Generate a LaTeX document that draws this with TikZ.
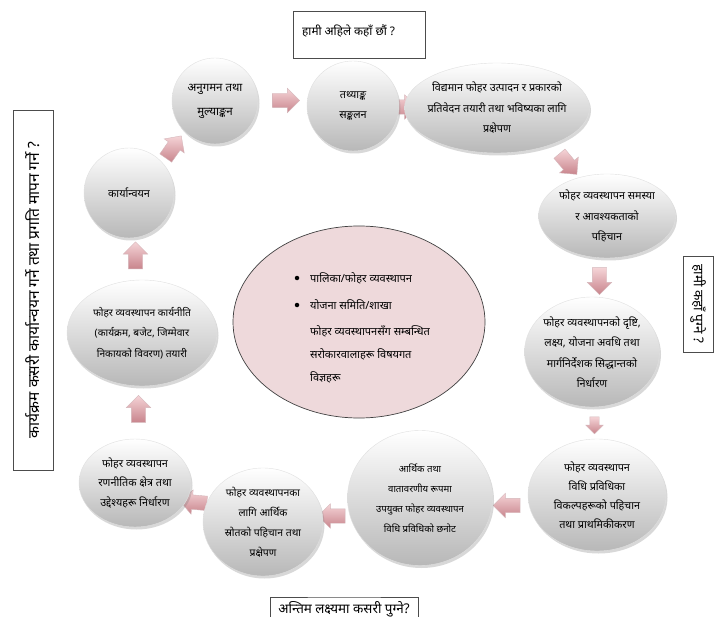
\documentclass[tikz,border=0pt]{standalone}
\usepackage{fontspec}
\setmainfont[Script=Devanagari]{Noto Sans}
\usetikzlibrary{shapes.geometric,shapes.arrows,shadows,calc}
\pgfdeclarelayer{bg}
\pgfsetlayers{bg,main}
\definecolor{arrL}{RGB}{245,212,215}
\definecolor{arrD}{RGB}{200,132,140}
\definecolor{arrE}{RGB}{170,110,118}
\definecolor{cpink}{RGB}{238,217,219}
\tikzset{
  bubble/.style={ellipse, inner sep=0pt, top color=white, middle color=black!3, bottom color=black!28,
    draw=black!12, drop shadow={shadow xshift=1.5pt, shadow yshift=-2.5pt, opacity=.3}},
  btext/.style={align=center, inner sep=0pt, font=\fontsize{10.8}{20.5}\selectfont},
  blockarrow/.style={single arrow, single arrow head extend=5pt, inner sep=0pt,
    text height=7pt, text depth=7pt, minimum height=27pt,
    top color=arrL, bottom color=arrD, draw=arrE!50},
  smallarrow/.style={blockarrow, text height=4.5pt, text depth=4.5pt, minimum height=17pt, single arrow head extend=4pt},
  qbox/.style={draw=black!70, line width=0.8pt},
  qtext/.style={inner sep=0pt, font=\fontsize{11.8}{14}\selectfont},
  ctext/.style={anchor=west, inner sep=0pt, font=\fontsize{11}{13}\selectfont},
  bullet/.style={circle, fill=black, inner sep=0pt, minimum size=4.5pt}
}
\begin{document}
\begin{tikzpicture}[x=1pt,y=-1pt]
\useasboundingbox (0,0) rectangle (719,617);
\begin{pgfonlayer}{bg}
\fill[white] (0,0) rectangle (719,617);
\end{pgfonlayer}

% question boxes
\node[qbox, minimum width=132pt, minimum height=47pt] (tb) at (359,35) {};
\node[qtext, anchor=west] (tbt) at (302,31) {हामी अहिले कहाँ छौं ?};
\node[qbox, minimum width=30pt, minimum height=96pt] (rb) at (698,304) {};
\node[qtext, rotate=-90, font=\fontsize{13.5}{16}\selectfont] (rbt) at (rb) {हामी कहाँ पुग्ने ?};
\node[qbox, minimum width=40pt, minimum height=360pt] (lb) at (33,290) {};
\node[qtext, rotate=90, font=\fontsize{15.5}{18}\selectfont] (lbt) at (lb) {कार्यक्रम कसरी कार्यान्वयन गर्ने तथा प्रगति मापन गर्ने ?};
\coordinate (bbl) at (270,620);
\coordinate (bbr) at (418,620);
\draw[qbox] (bbl) |- (344,597) -| (bbr);
\node[qtext, font=\fontsize{13.4}{15}\selectfont] (bbt) at (344,609) {अन्तिम लक्ष्यमा कसरी पुग्ने?};

% central ellipse
\node[ellipse, draw=black!75, fill=cpink, minimum width=252pt, minimum height=192pt, line width=0.7pt] (ce) at (359,322) {};
\node[bullet] (b1) at (297,278) {};
\node[ctext] (t1) at (310,278) {पालिका/फोहर व्यवस्थापन};
\node[bullet] (b2) at (297,305) {};
\node[ctext] (t2) at (310,305) {योजना समिति/शाखा};
\node[ctext] (t3) at (310,331) {फोहर व्यवस्थापनसँग सम्बन्धित};
\node[ctext] (t4) at (310,354) {सरोकारवालाहरू विषयगत};
\node[ctext] (t5) at (310,377) {विज्ञहरू};

% bubbles
\node[bubble, minimum width=86pt, minimum height=86pt] (c1) at (215,101) {};
\node[btext, font=\fontsize{11.5}{24}\selectfont] (c1t) at (c1) {अनुगमन तथा\\मुल्याङ्कन};
\node[bubble, minimum width=92pt, minimum height=90pt] (c2) at (353,106) {};
\node[btext] (c2t) at (c2) {तथ्याङ्क\\सङ्कलन};
\node[bubble, minimum width=185pt, minimum height=90pt] (e3) at (497,108) {};
\node[btext] (e3t) at (e3) {विद्यमान फोहर उत्पादन र प्रकारको\\प्रतिवेदन तयारी तथा भविष्यका लागि\\प्रक्षेपण};
\node[bubble, minimum width=137pt, minimum height=84pt] (e4) at (607,216) {};
\node[btext] (e4t) at (e4) {फोहर व्यवस्थापन समस्या\\र आवश्यकताको\\पहिचान};
\node[bubble, minimum width=135pt, minimum height=110pt] (e5) at (592,352) {};
\node[btext] (e5t) at (e5) {फोहर व्यवस्थापनको दृष्टि,\\लक्ष्य, योजना अवधि तथा\\मार्गनिर्देशक सिद्धान्तको\\निर्धारण};
\node[bubble, minimum width=138pt, minimum height=112pt] (c6) at (597,495) {};
\node[btext, font=\fontsize{10.8}{19}\selectfont] (c6t) at (c6) {फोहर व्यवस्थापन\\विधि प्रविधिका\\विकल्पहरूको पहिचान\\तथा प्राथमिकीकरण};
\node[bubble, minimum width=145pt, minimum height=135pt] (c7) at (420,498) {};
\node[btext, font=\fontsize{9.6}{20}\selectfont] (c7t) at (c7) {आर्थिक तथा\\वातावरणीय रूपमा\\उपयुक्त फोहर व्यवस्थापन\\विधि प्रविधिको छनोट};
\node[bubble, minimum width=120pt, minimum height=108pt] (c8) at (263,522) {};
\node[btext, font=\fontsize{10.4}{20}\selectfont] (c8t) at (c8) {फोहर व्यवस्थापनका\\लागि आर्थिक\\स्रोतको पहिचान तथा\\प्रक्षेपण};
\node[bubble, minimum width=112pt, minimum height=88pt] (e9) at (135,483) {};
\node[btext, font=\fontsize{10.8}{19.5}\selectfont] (e9t) at (e9) {फोहर व्यवस्थापन\\रणनीतिक क्षेत्र तथा\\उद्देश्यहरू निर्धारण};
\node[bubble, minimum width=150pt, minimum height=106pt] (e10) at (142,333) {};
\node[btext, font=\fontsize{10.2}{20.5}\selectfont] (e10t) at (e10) {फोहर व्यवस्थापन  कार्यनीति\\(कार्यक्रम, बजेट, जिम्मेवार\\निकायको विवरण) तयारी};
\node[bubble, minimum width=90pt, minimum height=90pt] (c11) at (129,193) {};
\node[btext] (c11t) at (c11) {कार्यान्वयन};

% block arrows between the bubbles
\begin{pgfonlayer}{bg}
\node[blockarrow] (a1) at ($(c1.east)!0.5!(c2.west)+(0,-3)$) {};
\node[blockarrow] (a2) at ($(c2.east)!0.5!(e3.west)+(-2,0)$) {};
\node[blockarrow, rotate=-50] (a3) at ($(e3.-40)!0.5!(e4.115)$) {};
\node[blockarrow, rotate=-90] (a4) at ($(e4.south)!0.5!(e5.north)$) {};
\node[smallarrow, rotate=-90] (a5) at ($(e5.south)!0.5!(c6.north)$) {};
\node[blockarrow, rotate=180] (a6) at ($(c6.west)!0.5!(c7.east)+(0,9)$) {};
\node[blockarrow, rotate=180] (a7) at ($(c7.west)!0.5!(c8.east)+(0,6)$) {};
\node[blockarrow, rotate=175] (a8) at ($(c8.west)!0.5!(e9.east)$) {};
\node[blockarrow, rotate=90] (a9) at ($(e9.north)!0.5!(e10.south)$) {};
\node[blockarrow, rotate=90] (a10) at ($(e10.north)!0.5!(c11.south)$) {};
\node[blockarrow, rotate=55] (a11) at ($(c11.45)!0.5!(c1.220)+(0,5)$) {};
\end{pgfonlayer}
\end{tikzpicture}
\end{document}
